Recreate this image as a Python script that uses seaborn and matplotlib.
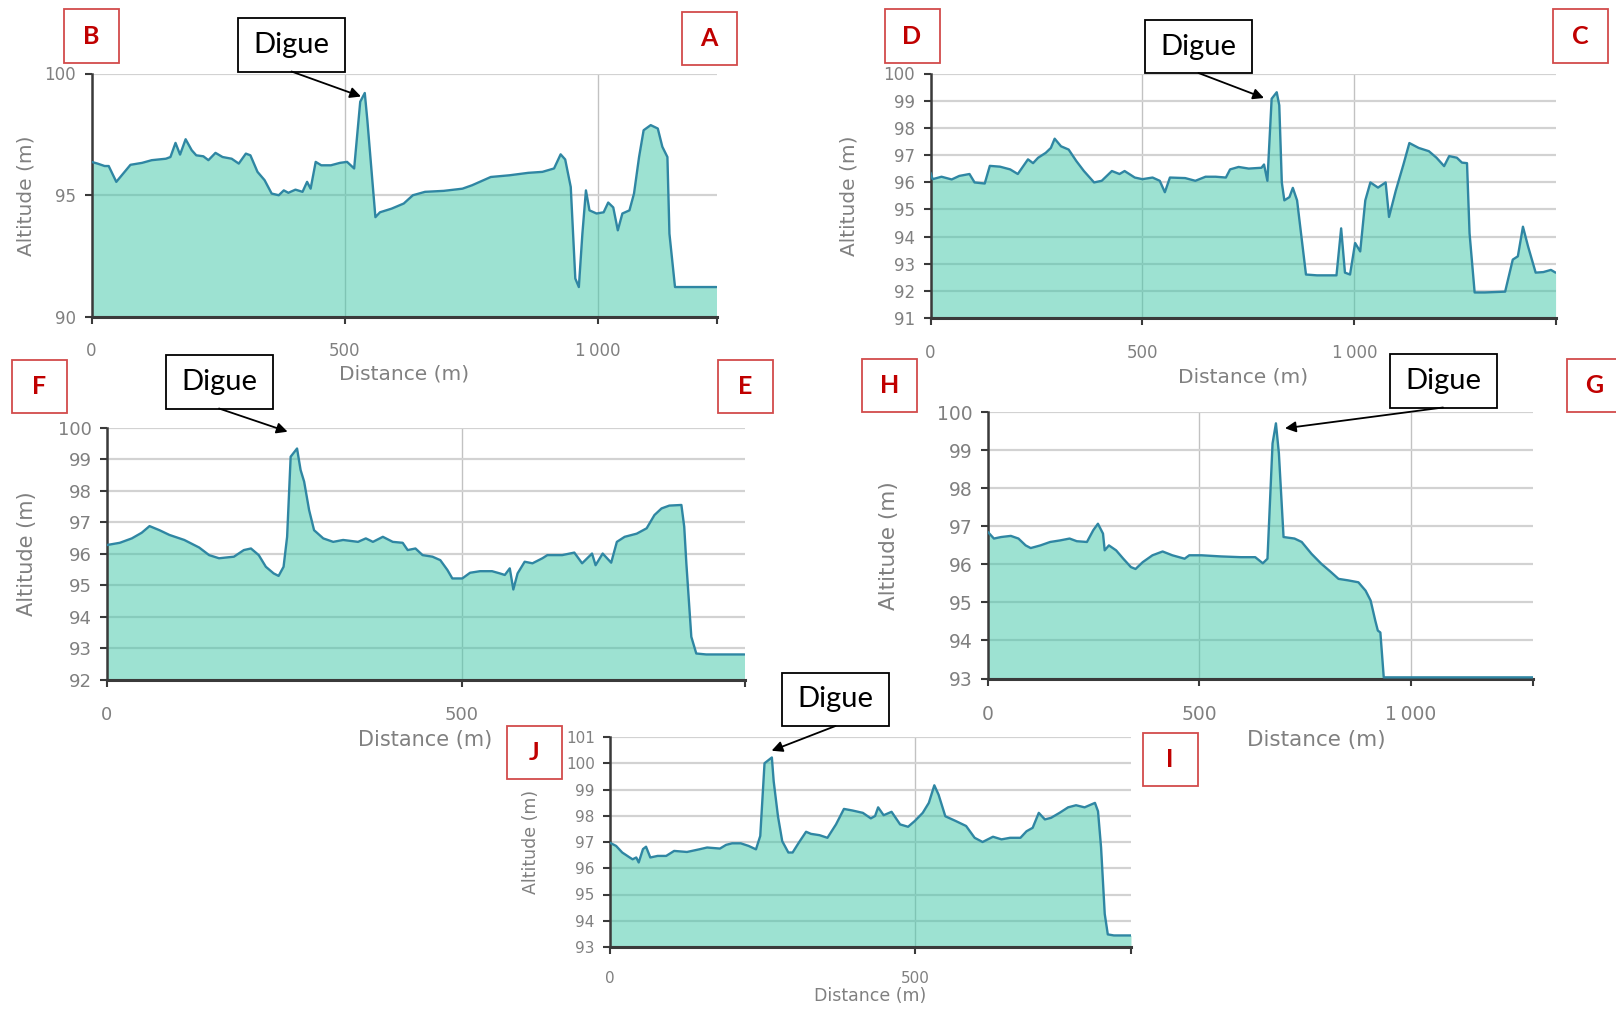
import matplotlib
matplotlib.use("Agg")
import matplotlib.pyplot as plt
from matplotlib.patches import Rectangle, FancyArrowPatch
import seaborn as sns

# ---------------- elevation profiles (distance in m, altitude in m) ----------------
ab_dist = [0, 12, 26, 34, 49, 63, 77, 100, 119, 147, 156, 166, 175, 186, 198, 207, 221, 231, 245, 259,
           277, 291, 305, 314, 328, 342, 356, 370, 380, 389, 403, 417, 426, 433, 443, 454, 473, 491, 505, 519,
           531, 540, 545, 556, 561, 570, 593, 617, 635, 659, 696, 733, 752, 789, 826, 863, 891, 914, 927, 936,
           947, 956, 963, 970, 977, 984, 998, 1012, 1021, 1031, 1040, 1049, 1063, 1072, 1082, 1091, 1105, 1119,
           1128, 1138, 1142, 1153, 1170, 1235]
ab_alt = [96.37, 96.3, 96.2, 96.2, 95.55, 95.9, 96.25, 96.33, 96.44, 96.5, 96.57, 97.15, 96.67, 97.3, 96.85,
          96.64, 96.6, 96.44, 96.74, 96.57, 96.5, 96.3, 96.71, 96.64, 95.96, 95.62, 95.07, 95.0, 95.2, 95.1,
          95.23, 95.14, 95.55, 95.27, 96.37, 96.23, 96.23, 96.33, 96.37, 96.1, 98.84, 99.2, 98.1, 95.34, 94.1,
          94.3, 94.45, 94.66, 95.0, 95.14, 95.18, 95.27, 95.41, 95.75, 95.82, 95.92, 95.96, 96.1, 96.68, 96.47,
          95.34, 91.58, 91.23, 93.42, 95.2, 94.38, 94.25, 94.3, 94.7, 94.5, 93.56, 94.25, 94.38, 95.07, 96.57,
          97.67, 97.88, 97.74, 96.99, 96.57, 93.42, 91.23, 91.23, 91.23]

cd_dist = [0, 5, 26, 50, 68, 92, 104, 128, 140, 164, 188, 206, 230, 242, 254, 272, 284, 293, 308, 326,
           344, 362, 386, 404, 428, 446, 458, 482, 500, 524, 541, 553, 565, 601, 625, 649, 673, 697, 707, 727,
           751, 781, 787, 795, 805, 817, 823, 829, 835, 847, 855, 865, 886, 912, 958, 969, 978, 990, 1002, 1014,
           1026, 1038, 1056, 1074, 1082, 1098, 1116, 1130, 1152, 1176, 1194, 1212, 1224, 1242, 1254, 1266, 1272,
           1284, 1308, 1356, 1374, 1386, 1398, 1410, 1428, 1446, 1464, 1475]
cd_alt = [96.35, 96.11, 96.2, 96.1, 96.23, 96.3, 95.99, 95.95, 96.6, 96.57, 96.47, 96.3, 96.84, 96.7, 96.9,
          97.08, 97.26, 97.6, 97.32, 97.2, 96.78, 96.41, 95.99, 96.05, 96.41, 96.3, 96.41, 96.17, 96.11, 96.17,
          96.05, 95.63, 96.17, 96.15, 96.05, 96.2, 96.2, 96.17, 96.47, 96.56, 96.5, 96.53, 96.65, 96.05, 99.07,
          99.31, 98.83, 95.99, 95.33, 95.45, 95.79, 95.33, 92.6, 92.57, 92.57, 94.3, 92.67, 92.6, 93.76, 93.45,
          95.33, 95.99, 95.8, 95.99, 94.72, 95.69, 96.65, 97.44, 97.26, 97.14, 96.9, 96.59, 96.96, 96.9, 96.72,
          96.7, 94.12, 91.94, 91.94, 91.97, 93.15, 93.27, 94.36, 93.64, 92.67, 92.69, 92.77, 92.67]

ef_dist = [0, 18, 35, 49, 60, 74, 88, 109, 130, 144, 158, 179, 193, 203, 214, 224, 235, 242, 249, 254,
           259, 268, 273, 278, 285, 292, 305, 319, 333, 354, 365, 375, 389, 403, 417, 424, 435, 445, 459, 470,
           480, 487, 501, 512, 526, 543, 554, 561, 568, 573, 579, 589, 600, 614, 621, 642, 659, 670, 684, 689,
           699, 711, 719, 730, 747, 761, 772, 782, 793, 810, 814, 817, 824, 831, 845, 899]
ef_alt = [96.28, 96.35, 96.49, 96.67, 96.88, 96.75, 96.6, 96.44, 96.2, 95.96, 95.86, 95.91, 96.12, 96.17, 95.96,
          95.59, 95.38, 95.3, 95.59, 96.54, 99.08, 99.34, 98.66, 98.29, 97.39, 96.75, 96.49, 96.38, 96.44, 96.38,
          96.49, 96.38, 96.54, 96.38, 96.35, 96.12, 96.17, 95.96, 95.91, 95.8, 95.49, 95.22, 95.22, 95.4, 95.45,
          95.45, 95.38, 95.33, 95.54, 94.87, 95.38, 95.75, 95.7, 95.86, 95.96, 95.96, 96.04, 95.7, 96.01, 95.64,
          96.01, 95.72, 96.38, 96.54, 96.64, 96.81, 97.23, 97.44, 97.53, 97.55, 96.86, 95.7, 93.37, 92.84, 92.81,
          92.81]

gh_dist = [0, 14, 31, 54, 72, 89, 101, 124, 147, 170, 193, 210, 234, 249, 260, 272, 276, 286, 303, 320,
           338, 349, 366, 389, 413, 436, 465, 476, 505, 551, 598, 632, 650, 661, 673, 681, 688, 699, 725, 742,
           765, 788, 811, 829, 852, 876, 893, 905, 916, 922, 928, 936, 945, 1289]
gh_alt = [96.85, 96.68, 96.72, 96.75, 96.68, 96.5, 96.43, 96.5, 96.59, 96.63, 96.68, 96.61, 96.59, 96.9, 97.07,
          96.81, 96.37, 96.5, 96.37, 96.15, 95.93, 95.88, 96.06, 96.24, 96.34, 96.24, 96.15, 96.24, 96.24, 96.21,
          96.19, 96.19, 96.03, 96.15, 99.18, 99.71, 98.92, 96.72, 96.68, 96.59, 96.28, 96.02, 95.8, 95.62, 95.58,
          95.53, 95.31, 95.05, 94.52, 94.26, 94.21, 93.03, 93.03, 93.03]

ij_dist = [0, 10, 20, 31, 37, 43, 47, 54, 59, 66, 78, 92, 105, 126, 146, 159, 180, 190, 200, 214,
           227, 239, 246, 253, 265, 268, 275, 282, 292, 299, 309, 321, 329, 343, 356, 370, 383, 397, 414, 427,
           434, 439, 448, 461, 475, 488, 499, 512, 522, 531, 538, 549, 566, 583, 597, 610, 627, 641, 655, 672,
           682, 692, 702, 712, 722, 736, 750, 763, 777, 794, 799, 804, 810, 815, 825, 853]
ij_alt = [96.97, 96.85, 96.6, 96.43, 96.34, 96.41, 96.22, 96.73, 96.82, 96.41, 96.47, 96.47, 96.66, 96.62, 96.72,
          96.79, 96.75, 96.89, 96.95, 96.95, 96.85, 96.72, 97.23, 100.0, 100.22, 99.31, 97.98, 97.03, 96.6, 96.6,
          96.97, 97.39, 97.31, 97.26, 97.16, 97.67, 98.26, 98.2, 98.11, 97.9, 97.99, 98.32, 98.02, 98.15, 97.67,
          97.58, 97.8, 98.11, 98.49, 99.16, 98.8, 97.98, 97.8, 97.61, 97.16, 97.0, 97.2, 97.1, 97.16, 97.16,
          97.41, 97.54, 98.11, 97.86, 97.92, 98.11, 98.32, 98.4, 98.32, 98.49, 98.17, 96.79, 94.26, 93.48, 93.44,
          93.44]

# profile end letters (start, end) and axis labels
end_letters = [("B", "A"), ("D", "C"), ("F", "E"), ("H", "G"), ("J", "I")]
dike_label = "Digue"
x_label = "Distance (m)"
y_label = "Altitude (m)"

# ---------------- style ----------------
sns.set_theme(style="white")
plt.rcParams["font.family"] = ["DejaVu Sans"]

W, H = 1616, 1010
FILL = "#3dc6a7"
LINE = "#2f86a3"
GREY_TXT = "#808080"
DARK = "#3a3a3a"

fig = plt.figure(figsize=(W / 100, H / 100), dpi=100)
fig.patch.set_facecolor("white")


def fx(x):
    return x / W


def fy(y):
    return 1 - y / H


def add_axes_px(left, top, right, bottom):
    return fig.add_axes([fx(left), fy(bottom), (right - left) / W, (bottom - top) / H])


def fmt_dist(v):
    return "1\u2009000" if v == 1000 else str(v)


def draw_profile(ax, rect, dist, alt, ylim, yticks, xmax, fs_tick, fs_label,
                 xpad, xlabel_c, ylabel_cx):
    left, top, right, bottom = rect
    ax.fill_between(dist, alt, ylim[0], color=FILL, alpha=0.5, linewidth=0, zorder=2)
    sns.lineplot(x=dist, y=alt, ax=ax, color=LINE, linewidth=1.7,
                 estimator=None, sort=False, zorder=3)
    ax.set_xlim(0, xmax)
    ax.set_ylim(*ylim)
    xt = [v for v in (0, 500, 1000) if v < xmax]
    ax.set_xticks(xt)
    ax.set_xticklabels([fmt_dist(v) for v in xt])
    ax.set_xticks([xmax], minor=True)
    ax.set_yticks(yticks)
    ax.set_yticklabels([str(v) for v in yticks])
    ax.set_axisbelow(True)
    ax.grid(axis="y", color="#d2d2d2", linewidth=1.6)
    ax.grid(axis="x", color="#c2c2c2", linewidth=1.0)
    for s in ("top", "right"):
        ax.spines[s].set_visible(False)
    ax.spines["left"].set_color(DARK)
    ax.spines["left"].set_linewidth(1.8)
    ax.spines["bottom"].set_color(DARK)
    ax.spines["bottom"].set_linewidth(2.2)
    ax.tick_params(axis="both", which="both", direction="out", length=5,
                   width=1.5, color=DARK, labelcolor=GREY_TXT, labelsize=fs_tick)
    ax.tick_params(axis="x", which="both", pad=xpad, bottom=True)
    ax.tick_params(axis="y", pad=6, left=True)
    ax.set_xlabel(x_label, fontsize=fs_label, color=GREY_TXT)
    ax.set_ylabel(y_label, fontsize=fs_label, color=GREY_TXT)
    wpx, hpx = right - left, bottom - top
    cx, cy = xlabel_c
    ax.xaxis.set_label_coords((cx - left) / wpx, (bottom - cy) / hpx)
    ax.xaxis.label.set_verticalalignment("center")
    ax.yaxis.set_label_coords((ylabel_cx - left) / wpx, 0.5)
    ax.yaxis.label.set_verticalalignment("center")


def letter_box(cx, cy, letter, w=55, h=53):
    fig.add_artist(Rectangle((fx(cx - w / 2), fy(cy + h / 2)), w / W, h / H,
                             transform=fig.transFigure, facecolor="white",
                             edgecolor="#d24b4b", linewidth=1.3, zorder=5))
    fig.text(fx(cx), fy(cy), letter, ha="center", va="center", fontsize=18,
             fontweight="bold", color="#c00000", family=["Lato", "DejaVu Sans"], zorder=6)


def dike_box(cx, cy, tip, w=107, h=53):
    fig.add_artist(Rectangle((fx(cx - w / 2), fy(cy + h / 2)), w / W, h / H,
                             transform=fig.transFigure, facecolor="white",
                             edgecolor="black", linewidth=1.3, zorder=5))
    fig.text(fx(cx), fy(cy), dike_label, ha="center", va="center", fontsize=21,
             color="black", family=["Lato", "DejaVu Sans"], zorder=6)
    fig.add_artist(FancyArrowPatch((fx(cx), fy(cy + h / 2)), (fx(tip[0]), fy(tip[1])),
                                   transform=fig.transFigure, arrowstyle="-|>",
                                   mutation_scale=16, color="black", linewidth=1.3,
                                   shrinkA=0, shrinkB=0, zorder=5))


panels = [
    dict(rect=(91.5, 73.5, 716.5, 317), dist=ab_dist, alt=ab_alt, ylim=(90, 100),
         yticks=[90, 95, 100], xmax=1235, fs_tick=12, fs_label=14.5, xpad=13,
         xlabel_c=(404, 374), ylabel_cx=26,
         letters=((91, 36), (709, 38)), dike=((291.5, 45), (361, 96.5))),
    dict(rect=(930.5, 73.5, 1556, 318), dist=cd_dist, alt=cd_alt, ylim=(91, 100),
         yticks=list(range(91, 101)), xmax=1476, fs_tick=12, fs_label=14.5, xpad=14,
         xlabel_c=(1243, 377), ylabel_cx=849,
         letters=((912, 36), (1580, 36)), dike=((1198.5, 46.5), (1264, 98))),
    dict(rect=(107, 427.7, 744.5, 680), dist=ef_dist, alt=ef_alt, ylim=(92, 100),
         yticks=list(range(92, 101)), xmax=899, fs_tick=13, fs_label=15, xpad=14,
         xlabel_c=(425.5, 740), ylabel_cx=27,
         letters=((39, 386.5), (745.5, 387)), dike=((219, 382), (287.6, 431.7))),
    dict(rect=(988, 412.3, 1533, 678.5), dist=gh_dist, alt=gh_alt, ylim=(93, 100),
         yticks=list(range(93, 101)), xmax=1289, fs_tick=13.5, fs_label=15.5, xpad=14,
         xlabel_c=(1316, 740), ylabel_cx=889,
         letters=((889.5, 385.5), (1594, 385.5)), dike=((1443, 381), (1285, 428.3))),
    dict(rect=(610, 737, 1131, 947), dist=ij_dist, alt=ij_alt, ylim=(93, 101),
         yticks=list(range(93, 102)), xmax=853, fs_tick=11, fs_label=12.5, xpad=12,
         xlabel_c=(870.5, 996.5), ylabel_cx=531,
         letters=((534.5, 752), (1170, 759.5)), dike=((835.5, 699.5), (771.6, 750.7))),
]

for p, (l_start, l_end) in zip(panels, end_letters):
    ax = add_axes_px(*p["rect"])
    ax.set_facecolor("white")
    draw_profile(ax, p["rect"], p["dist"], p["alt"], p["ylim"], p["yticks"], p["xmax"],
                 p["fs_tick"], p["fs_label"], p["xpad"], p["xlabel_c"], p["ylabel_cx"])
    (s_xy, e_xy) = p["letters"]
    letter_box(*s_xy, l_start)
    letter_box(*e_xy, l_end)
    box_c, tip = p["dike"]
    dike_box(*box_c, tip)

fig.savefig("out.png", dpi=100, facecolor="white")
